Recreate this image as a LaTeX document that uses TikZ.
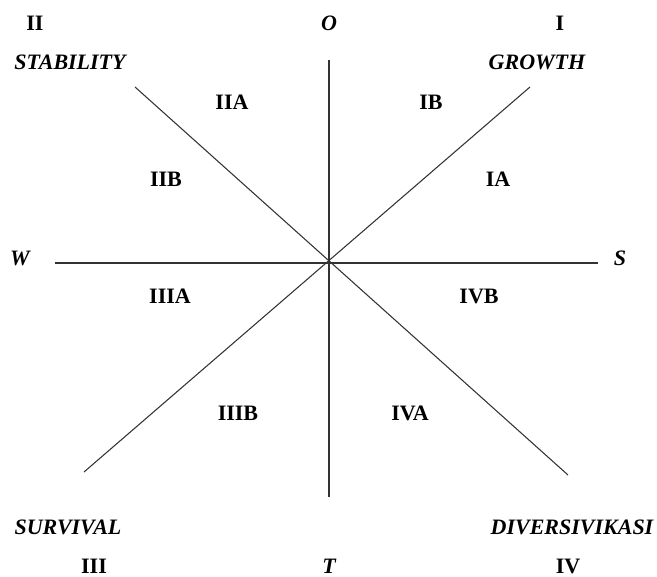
\documentclass[tikz,border=0pt]{standalone}
\usepackage{fontspec}
\setmainfont{Liberation Serif}
\usepackage{tikz}
\usetikzlibrary{positioning}
\tikzset{
  axis/.style ={draw=black!80, line width=0.8pt},
  quad/.style ={font=\fontsize{16.5}{19}\selectfont\bfseries, inner sep=1pt},
  strat/.style={font=\fontsize{16.5}{19}\selectfont\bfseries\itshape, inner sep=1pt},
}
\begin{document}
\begin{tikzpicture}[x=0.75pt,y=-0.75pt]
  \useasboundingbox (0,0) rectangle (657,577);
  % axis ends
  \coordinate (c)  at (329,263);
  \coordinate (top) at (329,60);   \coordinate (bot) at (329,497);
  \coordinate (lft) at (55,263);   \coordinate (rgt) at (598,263);
  \coordinate (ul) at (135,87);    \coordinate (lr) at (568,475);
  \coordinate (ur) at (530,87);    \coordinate (ll) at (84,472);
  \draw[axis](top)--(bot); \draw[axis](lft)--(rgt);
  \draw[axis](ul)--(lr);   \draw[axis](ur)--(ll);
  % corner labels
  \node[quad] (q2) at (35,23) {II};
  \node[strat] (o) at (329,23) {O};
  \node[quad] (q1) at (560,23) {I};
  \node[strat] (stab) at (70,62) {STABILITY};
  \node[strat] (grow) at (537,62) {GROWTH};
  \node[strat] (w) at (20,258) {W};
  \node[strat] (s) at (620,258) {S};
  \node[strat] (surv) at (68,527) {SURVIVAL};
  \node[strat] (div) at (572,527) {DIVERSIVIKASI};
  \node[quad] (q3) at (94,566) {III};
  \node[strat] (t) at (329,566) {T};
  \node[quad] (q4) at (568,566) {IV};
  % sectors
  \node[quad] (iia) at (232,102) {IIA};
  \node[quad] (ib) at (431,102) {IB};
  \node[quad] (iib) at (166,179) {IIB};
  \node[quad] (ia) at (498,179) {IA};
  \node[quad] (iiia) at (170,296) {IIIA};
  \node[quad] (ivb) at (479,296) {IVB};
  \node[quad] (iiib) at (238,413) {IIIB};
  \node[quad] (iva) at (410,413) {IVA};
\end{tikzpicture}
\end{document}
